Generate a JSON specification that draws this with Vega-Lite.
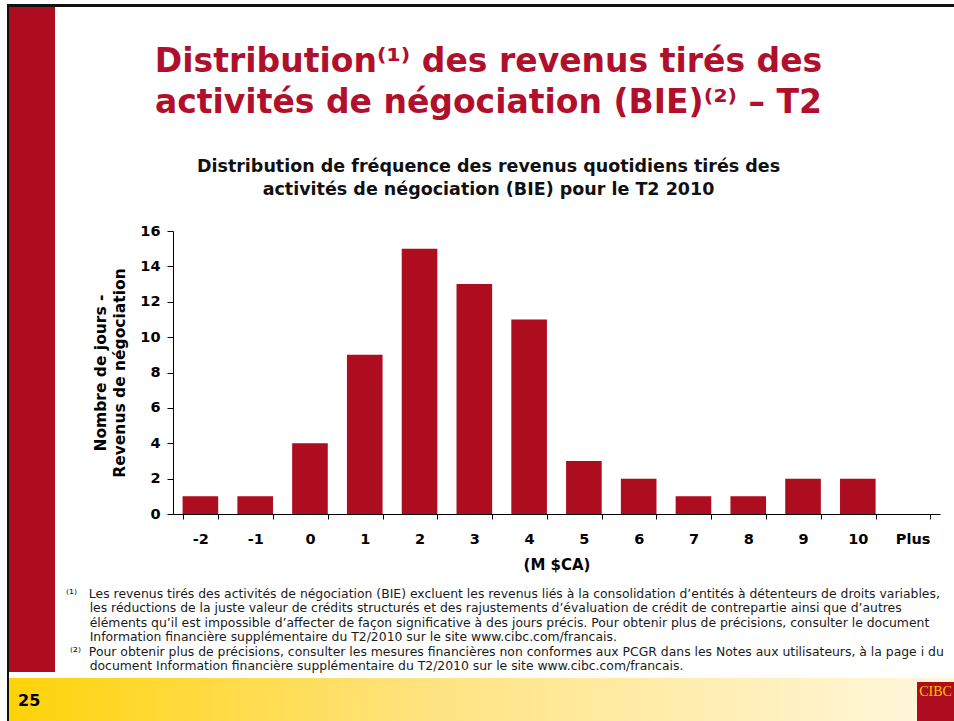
{
  "$schema": "https://vega.github.io/schema/vega-lite/v6.json",
  "padding": {"left": 7, "top": 4, "right": 0, "bottom": 0},
  "background": "white",
  "config": {"view": {"stroke": null}, "font": "DejaVu Sans"},
  "spacing": 0,
  "bounds": "flush",
  "vconcat": [
    {"width": 947, "height": 3, "data": {"values": [{}]}, "mark": {"type": "rect", "color": "#111111"}, "encoding": {}},
    {
      "spacing": 0,
      "bounds": "flush",
      "hconcat": [
        {"width": 2, "height": 714, "data": {"values": [{}]}, "mark": {"type": "rect", "color": "#111111"}, "encoding": {}},
        {
          "spacing": 5,
          "bounds": "full",
          "vconcat": [
            {
              "spacing": 118,
              "bounds": "flush",
              "hconcat": [
                {"width": 46, "height": 665, "data": {"values": [{}]}, "mark": {"type": "rect", "color": "#ad0d1f"}, "encoding": {}},
                {
                  "spacing": 20,
                  "bounds": "flush",
                  "vconcat": [
                    {"width": 767, "height": 204, "data": {"values": [{}]}, "mark": {"type": "rect", "opacity": 0}, "encoding": {}},
                    {
                      "width": 767,
                      "height": 283,
                      "data": {"values": [
                        {"bin": "-2", "jours": 1},
                        {"bin": "-1", "jours": 1},
                        {"bin": "0", "jours": 4},
                        {"bin": "1", "jours": 9},
                        {"bin": "2", "jours": 15},
                        {"bin": "3", "jours": 13},
                        {"bin": "4", "jours": 11},
                        {"bin": "5", "jours": 3},
                        {"bin": "6", "jours": 2},
                        {"bin": "7", "jours": 1},
                        {"bin": "8", "jours": 1},
                        {"bin": "9", "jours": 2},
                        {"bin": "10", "jours": 2},
                        {"bin": "Plus", "jours": 0}
                      ]},
                      "title": {
                        "text": ["Distribution⁽¹⁾ des revenus tirés des", "activités de négociation (BIE)⁽²⁾ – T2"],
                        "subtitle": ["Distribution de fréquence des revenus quotidiens tirés des", "activités de négociation (BIE) pour le T2 2010"],
                        "anchor": "middle",
                        "frame": "group",
                        "dx": -68,
                        "offset": 25,
                        "font": "DejaVu Sans",
                        "fontSize": 33,
                        "fontWeight": "bold",
                        "color": "#b0102b",
                        "lineHeight": 41,
                        "subtitleFont": "DejaVu Sans",
                        "subtitleFontSize": 17.5,
                        "subtitleFontWeight": "bold",
                        "subtitleColor": "#111111",
                        "subtitleLineHeight": 23,
                        "subtitlePadding": 37.5
                      },
                      "mark": {"type": "bar", "color": "#ad0d1f"},
                      "encoding": {
                        "x": {
                          "field": "bin",
                          "type": "ordinal",
                          "sort": null,
                          "scale": {"paddingInner": 0.35, "paddingOuter": 0.175},
                          "axis": {
                            "title": "(M $CA)",
                            "labelAngle": 0,
                            "tickBand": "extent",
                            "tickSize": 5,
                            "labelPadding": 13,
                            "domainColor": "#000000",
                            "tickColor": "#000000",
                            "labelFont": "DejaVu Sans",
                            "labelFontSize": 14.5,
                            "labelFontWeight": "bold",
                            "labelColor": "#000000",
                            "titleFont": "DejaVu Sans",
                            "titleFontSize": 15,
                            "titleFontWeight": "bold",
                            "titleColor": "#000000",
                            "titlePadding": 12
                          }
                        },
                        "y": {
                          "field": "jours",
                          "type": "quantitative",
                          "scale": {"domain": [0, 16], "nice": false},
                          "axis": {
                            "title": ["Nombre de jours -", "Revenus de négociation"],
                            "values": [0, 2, 4, 6, 8, 10, 12, 14, 16],
                            "grid": false,
                            "tickSize": 6,
                            "labelPadding": 7,
                            "domainColor": "#000000",
                            "tickColor": "#000000",
                            "labelFont": "DejaVu Sans",
                            "labelFontSize": 14.5,
                            "labelFontWeight": "bold",
                            "labelColor": "#000000",
                            "titleFont": "DejaVu Sans",
                            "titleFontSize": 15.5,
                            "titleFontWeight": "bold",
                            "titleColor": "#000000",
                            "titlePadding": 12,
                            "titleLineHeight": 19
                          }
                        }
                      }
                    },
                    {
                      "width": 767,
                      "height": 1,
                      "data": {"values": [{}]},
                      "mark": {"type": "rect", "opacity": 0},
                      "encoding": {},
                      "title": {
                        "text": [
                          "⁽¹⁾\u00a0\u00a0\u00a0Les revenus tirés des activités de négociation (BIE) excluent les revenus liés à la consolidation d’entités à détenteurs de droits variables,",
                          "\u200b\u00a0\u00a0\u00a0\u00a0\u00a0\u00a0les réductions de la juste valeur de crédits structurés et des rajustements d’évaluation de crédit de contrepartie ainsi que d’autres",
                          "\u200b\u00a0\u00a0\u00a0\u00a0\u00a0\u00a0éléments qu’il est impossible d’affecter de façon significative à des jours précis. Pour obtenir plus de précisions, consulter le document",
                          "\u200b\u00a0\u00a0\u00a0\u00a0\u00a0\u00a0Information financière supplémentaire du T2/2010 sur le site www.cibc.com/francais.",
                          "\u200b\u00a0⁽²⁾\u00a0\u00a0Pour obtenir plus de précisions, consulter les mesures financières non conformes aux PCGR dans les Notes aux utilisateurs, à la page i du",
                          "\u200b\u00a0\u00a0\u00a0\u00a0\u00a0\u00a0document Information financière supplémentaire du T2/2010 sur le site www.cibc.com/francais."
                        ],
                        "orient": "bottom",
                        "anchor": "start",
                        "frame": "group",
                        "align": "left",
                        "dx": -107,
                        "offset": 53,
                        "font": "DejaVu Sans",
                        "fontSize": 12.4,
                        "fontWeight": "normal",
                        "color": "#1a1a1a",
                        "lineHeight": 14.4
                      }
                    }
                  ]
                }
              ]
            },
            {
              "spacing": 0,
              "bounds": "flush",
              "hconcat": [
                {
                  "width": 908,
                  "height": 44,
                  "data": {"values": [{}]},
                  "mark": {"type": "rect", "color": {"gradient": "linear", "x1": 0, "x2": 1, "y1": 0, "y2": 0, "stops": [{"offset": 0, "color": "#ffd309"}, {"offset": 0.45, "color": "#ffe37e"}, {"offset": 1, "color": "#fff6d8"}]}},
                  "encoding": {},
                  "title": {"text": "25", "orient": "top", "anchor": "start", "frame": "group", "offset": -39, "baseline": "middle", "dx": 9, "font": "DejaVu Sans", "fontSize": 16, "fontWeight": "bold", "color": "#000000"}
                },
                {
                  "spacing": 0,
                  "bounds": "flush",
                  "vconcat": [
                    {"width": 37, "height": 4, "data": {"values": [{}]}, "mark": {"type": "rect", "color": "#fff6d8"}, "encoding": {}},
                    {
                      "width": 37,
                      "height": 20,
                      "data": {"values": [{}]},
                      "layer": [
                        {"mark": {"type": "rect", "color": "#ad0d1f"}, "encoding": {}},
                        {"mark": {"type": "text", "text": "CIBC", "font": "Liberation Serif", "fontSize": 14, "color": "#f7c600", "baseline": "middle", "align": "center"}, "encoding": {}}
                      ]
                    },
                    {"width": 37, "height": 20, "data": {"values": [{}]}, "mark": {"type": "rect", "color": "#ad0d1f"}, "encoding": {}}
                  ]
                }
              ]
            }
          ]
        }
      ]
    }
  ]
}
